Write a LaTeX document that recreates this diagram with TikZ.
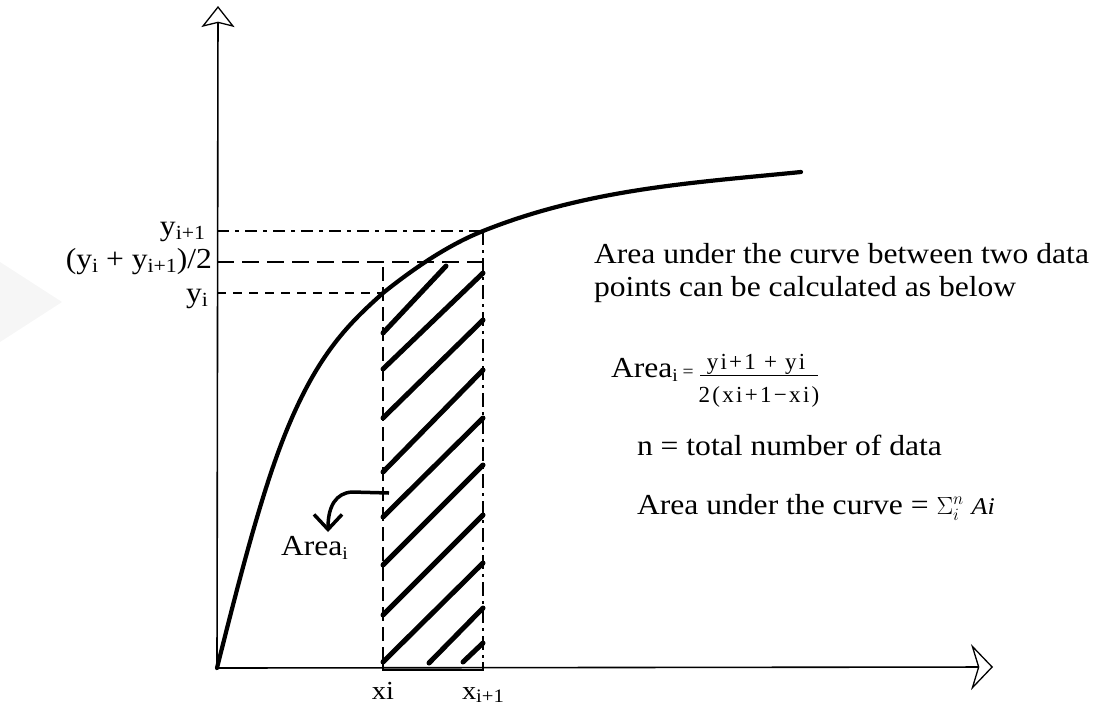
\documentclass[tikz,border=0pt]{standalone}
\usepackage{fontspec}
\setmainfont{Liberation Serif}[FakeStretch=1.09]
\newfontfamily\eqfont{Liberation Serif}[LetterSpace=10]
\usetikzlibrary{arrows.meta}
\newcommand{\lowsub}[2][19]{\raisebox{-0.14em}{\fontsize{#1}{#1}\selectfont #2}}
\begin{document}
\begin{tikzpicture}[x=1pt,y=-1pt,
  every node/.style={inner sep=0pt, outer sep=0pt},
  axis/.style={line width=1.6pt},
  curveline/.style={line width=4.2pt, line cap=round},
  hatchline/.style={line width=5pt, line cap=round},
  guide/.style={line width=1.3pt},
  lbl/.style={font=\fontsize{29}{34}\selectfont},
  smalllbl/.style={font=\fontsize{26}{30}\selectfont},
  eqtext/.style={font=\eqfont\fontsize{23}{26}\selectfont},
  pointer/.style={line width=3.5pt, -{Straight Barb[length=15pt,width=28pt]}}
]
\useasboundingbox (0,0) rectangle (1107,705);
% faint watermark
\fill[gray!7] (0,262) -- (62,302) -- (0,342) -- cycle;

% key coordinates
\coordinate (O) at (217,668);
\coordinate (ytip) at (218,6);
\coordinate (xtip) at (993,667);
\coordinate (Lyi1) at (217,231);
\coordinate (Lmid) at (217,262);
\coordinate (Lyi) at (217,293);
\coordinate (Pi1) at (483,231);
\coordinate (Pmid) at (483,262);
\coordinate (Pi) at (383,293);
\coordinate (xiTop) at (383,267);
\coordinate (xiBot) at (383,668);
\coordinate (xi1Bot) at (483,668);
\coordinate (Cq) at (279,450);
\coordinate (Cend) at (801,172);

% guide lines
\draw[guide, dash pattern=on 12pt off 6pt on 4pt off 6pt] (Lyi1) -- (Pi1);
\draw[guide, dash pattern=on 17pt off 8pt] (Lmid) -- (Pmid);
\draw[guide, dash pattern=on 9pt off 7pt] (Lyi) -- (Pi);
\draw[guide, dash pattern=on 14pt off 6pt] (xiTop) -- (xiBot);
\draw[guide, dash pattern=on 14pt off 5pt on 3pt off 5pt] (Pi1) -- (xi1Bot);
\draw[line width=1.6pt] (383,662) -- (383,670) -- (483,670) -- (483,662);

% hatching
\foreach \ax/\ay/\bx/\by in {383/333/446/266, 383/369/483/273, 383/418/483/320,
  383/472/483/370, 383/517/483/418, 383/565/483/465, 383/615/483/515,
  383/662/483/563, 429/663/483/608, 463/662/483/643}
  \draw[hatchline] (\ax,\ay) -- (\bx,\by);

% curve
\draw[curveline] (O) .. controls (237.7,585.2) and (258.3,505.9) .. (Cq)
  .. controls (313.7,356.4) and (348.3,324.2) .. (Pi)
  .. controls (416.3,266.4) and (449.7,244.3) .. (Pi1)
  .. controls (589,188.6) and (695,182.6) .. (Cend);

% axes
\draw[axis, -{Stealth[open, length=21pt, width=33pt, inset=4pt, line width=1.3pt]}] (O) -- (ytip);
\draw[axis, -{Stealth[open, length=22pt, width=46pt, inset=7pt, line width=1.3pt]}] (O) -- (xtip);

% axis labels
\node[lbl, anchor=base east] (lyi1) at (205,235) {y\lowsub[20]{i+1}};
\node[lbl, anchor=base east] (lmid) at (212,268) {(y\lowsub[20]{i} + y\lowsub[20]{i+1})/2};
\node[lbl, anchor=base east] (lyi) at (208,302) {y\lowsub[20]{i}};
\node[smalllbl, anchor=base] (lxi) at (383,699) {xi};
\node[smalllbl, anchor=base west] (lxi1) at (462,699) {x\lowsub[19]{i+1}};

% Area_i pointer
\coordinate (astart) at (389,493);
\coordinate (aend) at (328,532);
\node[lbl, anchor=base west] (arealbl) at (281,555) {Area\lowsub[18]{i}};
\draw[pointer] (astart) -- (352,492) .. controls (336,493) and (328,506) .. (aend);

% explanation text
\node[lbl, anchor=base west] (t1) at (594,263) {Area under the curve between two data};
\node[lbl, anchor=base west] (t2) at (594,296) {points can be calculated as below};
\node[lbl, anchor=base west] (eqlhs) at (611,377) {Area\lowsub[18]{i}\,{\fontsize{18}{18}\selectfont =}};
\node[eqtext, anchor=base] (num) at (756,369) {yi+1 + yi};
\node[eqtext, anchor=base] (den) at (759,402) {2(xi+1−xi)};
\draw[line width=1.1pt] (700,375.5) -- (818,375.5);
\node[lbl, anchor=base west] (t3) at (637,455) {n = total number of data};
\node[lbl, anchor=base west] (t4) at (637,514) {Area under the curve = {\fontsize{24}{24}\selectfont$\Sigma_{i}^{n}$} {\fontsize{24}{24}\selectfont\itshape Ai}};
\end{tikzpicture}
\end{document}
